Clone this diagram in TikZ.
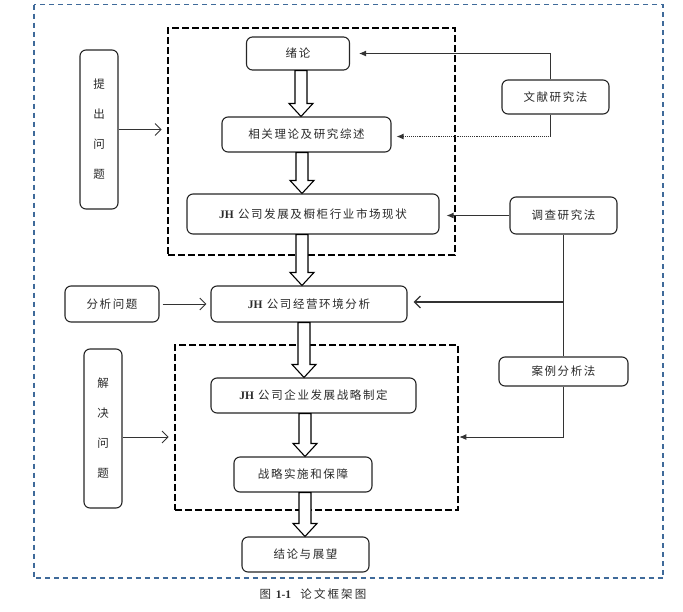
\documentclass[tikz,border=0pt]{standalone}
\usepackage{fontspec}
\setmainfont{Liberation Serif}
\newfontfamily\cjk[LetterSpace=14]{Noto Sans CJK SC}
\newfontfamily\cjkcap[LetterSpace=18]{Noto Sans CJK SC}
\newcommand\jhtext{{\fontspec{Liberation Serif}\bfseries JH}\ }
\usetikzlibrary{arrows.meta,calc}
\definecolor{bordercol}{HTML}{3F6A9A}
\definecolor{txtcol}{HTML}{2A2A2A}
\tikzset{
  rbox/.style={draw=black!85, line width=1.1pt, rounded corners=6pt, fill=white,
    text=txtcol, font=\cjk\fontsize{11.5}{14}\selectfont, inner sep=0pt},
  vbox/.style={rbox, align=center, font=\cjk\fontsize{11.5}{30}\selectfont},
  dbox/.style={draw=black, line width=2.6pt, dash pattern=on 7pt off 3pt, inner sep=0pt},
  conn/.style={draw=black!80, line width=0.9pt},
  filledtip/.style={conn, -{Latex[length=7pt,width=6pt]}},
  opentip/.style={conn, -{Straight Barb[length=6pt,width=12pt]}},
  hollow/.style={draw=black, line width=1.1pt, fill=white, line join=miter},
}
\newcommand\hollowarrow[3]{%
  \draw[hollow] let \p1=(#1.south), \p2=(#2.north) in
    ({#3-6},\y1) -- ({#3+6},\y1) -- ({#3+6},\y2+13pt) -- ({#3+12},\y2+13pt)
    -- (#3,\y2) -- ({#3-12},\y2+13pt) -- ({#3-6},\y2+13pt) -- cycle;}
\begin{document}
\begin{tikzpicture}[x=1pt,y=-1pt]
\useasboundingbox (0,0) rectangle (683,611);
% outer border
\draw[bordercol, line width=1.5pt, dash pattern=on 5pt off 4pt] (34,4.5) rectangle (663,578);
% dashed group boxes
\node[dbox, minimum width=287pt, minimum height=227pt] (box1) at (311.5,141.5) {};
\node[dbox, minimum width=283pt, minimum height=165pt] (box2) at (316.5,427.5) {};
% nodes
\node[rbox, minimum width=103pt, minimum height=33pt] (xulun) at (298,53.5) {绪论};
\node[rbox, minimum width=169pt, minimum height=35pt] (xiangguan) at (306.5,134.5) {相关理论及研究综述};
\node[rbox, minimum width=252pt, minimum height=40pt] (jh1) at (313,214) {\jhtext 公司发展及橱柜行业市场现状};
\node[rbox, minimum width=107pt, minimum height=34pt] (wenxian) at (555.5,97) {文献研究法};
\node[rbox, minimum width=107pt, minimum height=37pt] (diaocha) at (563.5,215.5) {调查研究法};
\node[vbox, minimum width=38pt, minimum height=159pt] (tichu) at (99,129.5) {提\\出\\问\\题};
\node[rbox, minimum width=94pt, minimum height=36pt] (fenxi) at (112,304) {分析问题};
\node[rbox, minimum width=196pt, minimum height=36pt] (jingying) at (309,304) {\jhtext 公司经营环境分析};
\node[rbox, minimum width=129pt, minimum height=29pt] (anli) at (563.5,371.5) {案例分析法};
\node[rbox, minimum width=205pt, minimum height=35pt] (zhanlue) at (313.5,395.5) {\jhtext 公司企业发展战略制定};
\node[rbox, minimum width=138pt, minimum height=35pt] (shishi) at (303,474.5) {战略实施和保障};
\node[rbox, minimum width=127pt, minimum height=35pt] (jielun) at (305.5,554.5) {结论与展望};
\node[vbox, minimum width=38pt, minimum height=159pt] (jiejue) at (103,428.5) {解\\决\\问\\题};
\node[text=txtcol, font=\cjkcap\fontsize{11.5}{14}\selectfont] (caption) at (313,594) {图 {\fontspec{Liberation Serif}\bfseries 1-1}\ \ 论文框架图};
% hollow flow arrows
\hollowarrow{xulun}{xiangguan}{301}
\hollowarrow{xiangguan}{jh1}{302}
\hollowarrow{jh1}{jingying}{302}
\hollowarrow{jingying}{zhanlue}{304}
\hollowarrow{zhanlue}{shishi}{305}
\hollowarrow{shishi}{jielun}{305}
% method connectors
\coordinate (wtop) at ([xshift=-5pt]wenxian.north);
\coordinate (wbot) at ([xshift=-5pt]wenxian.south);
\coordinate (wcorner) at ([yshift=-2pt]wbot |- xiangguan.east);
\draw[filledtip] (wtop) |- ([xshift=9pt]xulun.east);
\draw[conn] (wbot) -- (wcorner);
\draw[filledtip, densely dotted] (wcorner) -- ([xshift=5pt]xiangguan.east |- wcorner);
\draw[filledtip] (diaocha.west) -- ([xshift=7pt]jh1.east |- diaocha.west);
\draw[conn] (diaocha.south) -- (anli.north);
\coordinate (branch) at (diaocha.south |- 0,302);
\draw[opentip, line width=1.3pt] (branch) -- ([xshift=6pt]jingying.east |- branch);
\coordinate (b2r) at (box2.east |- 0,437);
\draw[filledtip] (anli.south) |- (b2r);
% problem connectors
\draw[opentip] (tichu.east) -- ([xshift=-5pt]box1.west |- tichu.east);
\draw[opentip] ([xshift=3pt]fenxi.east) -- ([xshift=-4pt]jingying.west);
\coordinate (jl) at (jiejue.east |- b2r);
\draw[opentip] (jl) -- ([xshift=-5pt]box2.west |- jl);
\end{tikzpicture}
\end{document}
